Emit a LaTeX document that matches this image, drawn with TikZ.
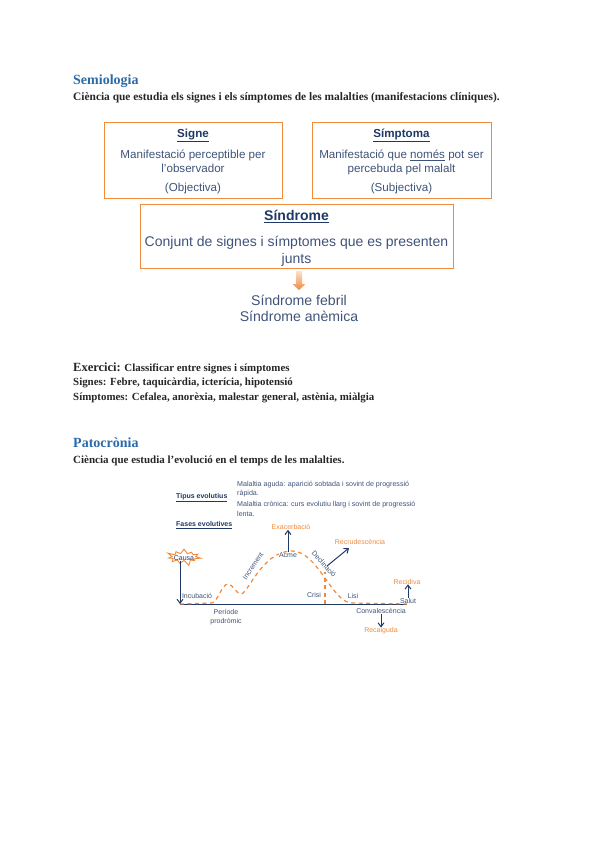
\documentclass[tikz,border=0pt]{standalone}
\usepackage{fontspec}
\setmainfont{Liberation Serif}
\newfontfamily\boxfont{Liberation Sans}
\usetikzlibrary{arrows.meta,shapes.symbols}
\definecolor{titleblue}{HTML}{2A6AA8}
\definecolor{boxorange}{HTML}{F08A3C}
\definecolor{navy}{HTML}{1F3864}
\definecolor{slate}{HTML}{3F5378}
\definecolor{bodyink}{HTML}{262626}
\newcommand{\fs}[1]{\fontsize{#1}{#1}\selectfont}

\begin{document}
\begin{tikzpicture}[
  x=1pt, y=-1pt,
  heading/.style={anchor=west, inner sep=0pt, text=titleblue, font=\fs{14}\bfseries},
  bodyline/.style={anchor=west, inner sep=0pt, text=bodyink, font=\fs{10.9}\bfseries},
  fitxa/.style={draw=boxorange, line width=1pt, inner sep=0pt, align=center, text=slate, font=\boxfont\fs{11.6}},
  small/.style={inner sep=0pt, text=slate, font=\boxfont\fs{7}},
  hot/.style={inner sep=0pt, text=boxorange, font=\boxfont\fs{7}},
  sublabel/.style={anchor=west, inner sep=0pt, text=slate, font=\boxfont\fs{7.1}},
  corba/.style={draw=boxorange, line width=1.2pt, dash pattern=on 4pt off 3.5pt},
  fletxa/.style={draw=navy, line width=1pt, -{Straight Barb[length=4pt,width=6pt]}},
  >=Stealth
]
  \useasboundingbox (0,0) rectangle (600,848);

  \node[heading] (semiologia) at (73,81) {Semiologia};
  \node[bodyline, font=\fs{11.4}\bfseries] (definicio) at (73,98) {Ciència que estudia els signes i els símptomes de les malalties (manifestacions clíniques).};

  \node[fitxa, minimum width=178pt, minimum height=75pt] (signe) at (193,160.5) {\rule{0pt}{10.5pt}{\bfseries\color{navy}\underline{Signe}}\\[7pt]Manifestació perceptible per\\[2.5pt]l’observador\\[7.5pt](Objectiva)};
  \node[fitxa, minimum width=179pt, minimum height=75pt] (simptoma) at (401.5,160.5) {\rule{0pt}{10.5pt}{\bfseries\color{navy}\underline{Símptoma}}\\[7pt]Manifestació que \underline{només} pot ser\\[2.5pt]percebuda pel malalt\\[7.5pt](Subjectiva)};
  \node[fitxa, minimum width=313pt, minimum height=64pt, font=\boxfont\fs{14}] (sindrome) at (296.5,236) {\rule{0pt}{15pt}{\bfseries\color{navy}\underline{Síndrome}}\\[12pt]Conjunt de signes i símptomes que es presenten\\[3pt]junts};

  \path[top color=boxorange!25, bottom color=boxorange] (296,271) -- (302,271) -- (302,284) -- (305.5,284) -- (299,290) -- (292.5,284) -- (296,284) -- cycle;
  \node[inner sep=0pt, align=center, text=slate, font=\boxfont\fs{14.1}] (exemples) at (299,308.5) {Síndrome febril\\[2.5pt]Síndrome anèmica};

  \node[bodyline] (exercici) at (73,368) {{\fs{12.5}Exercici:} Classificar entre signes i símptomes};
  \node[bodyline] (signes) at (73,383) {Signes: Febre, taquicàrdia, icterícia, hipotensió};
  \node[bodyline] (simptomes) at (73,398) {Símptomes: Cefalea, anorèxia, malestar general, astènia, miàlgia};

  \node[heading] (patocronia) at (73,443) {Patocrònia};
  \node[bodyline, font=\fs{11}\bfseries] (evolucio) at (73,460.5) {Ciència que estudia l'evolució en el temps de les malalties.};

  % capcalera del grafic
  \node[sublabel, text=navy, font=\boxfont\bfseries\fs{7}] (tipus) at (176,498) {\underline{Tipus evolutius}};
  \node[sublabel, text=navy, font=\boxfont\bfseries\fs{7}] (fases) at (176,525) {\underline{Fases evolutives}};
  \node[sublabel] (aguda1) at (237,484.5) {Malaltia aguda: aparició sobtada i sovint de progressió};
  \node[sublabel] (aguda2) at (237,493.5) {ràpida.};
  \node[sublabel] (cronica1) at (237,505) {Malaltia crònica: curs evolutiu llarg i sovint de progressió};
  \node[sublabel] (cronica2) at (237,514) {lenta.};

  % eix i corba
  \coordinate (inici) at (180,604);
  \coordinate (final) at (407,604);
  \coordinate (peu) at (325,604);
  \coordinate (cim) at (325,572);
  \coordinate (sortida) at (327,566);
  \coordinate (punta) at (349,548);
  \draw[navy, line width=1pt] (inici) -- (final);
  \draw[corba] (inici) -- (212,603) .. controls (218,601) and (222,584) .. (228,584)
    .. controls (233,584) and (236,594) .. (241,594)
    .. controls (248,594) and (262,551) .. (292,551)
    .. controls (318,551) and (332,603) .. (352,603) -- (final);
  \draw[corba] (peu) -- (cim);

  \node[starburst, starburst points=11, starburst point height=6pt, draw=boxorange, line width=0.9pt, minimum width=36pt, minimum height=19pt, inner sep=0pt] (causa) at (184,557) {};
  \node[small, text=navy] (causatext) at (184,558) {Causa};

  \node[small] (incubacio) at (197,596) {Incubació};
  \node[small, align=center] (prodromic) at (226,617) {Període\\[1.5pt]prodròmic};
  \node[small, rotate=56] (increment) at (253,566) {Increment};
  \node[small, fill=white, inner sep=0.5pt] (acme) at (288,555.5) {Acme};
  \node[small, rotate=-48] (declinacio) at (324,564) {Declinació};
  \node[small] (crisi) at (314,595) {Crisi};
  \node[small] (lisi) at (353,596) {Lisi};
  \node[small] (salut) at (408,601) {Salut};
  \node[small] (convalescencia) at (381,611) {Convalescència};

  \node[hot] (exacerbacio) at (291,527) {Exacerbació};
  \node[hot] (recrudescencia) at (360,542) {Recrudescència};
  \node[hot] (recidiva) at (407,581.5) {Recidiva};
  \node[hot] (recaiguda) at (381,631) {Recaiguda};

  \draw[fletxa] (causa.south -| inici) -- (inici);
  \draw[fletxa] (acme.north) -- (acme.north |- exacerbacio.south);
  \draw[fletxa] (sortida) -- (punta);
  \draw[fletxa] (salut.north) -- (salut.north |- recidiva.south);
  \draw[fletxa] (convalescencia) -- (recaiguda);
\end{tikzpicture}
\end{document}
